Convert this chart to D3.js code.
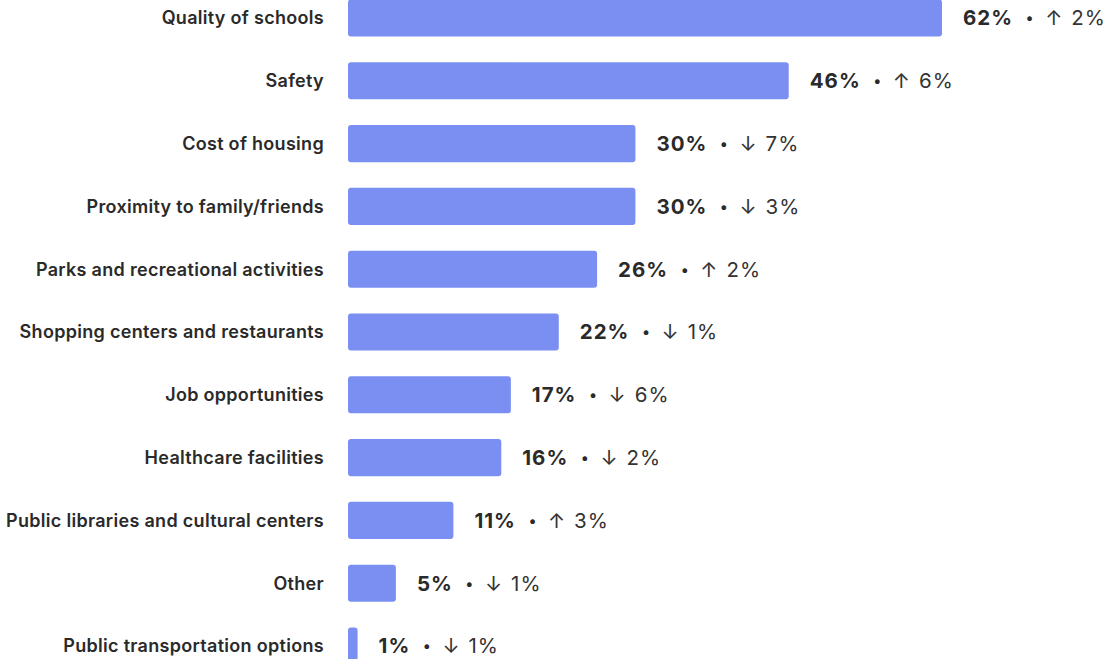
<!DOCTYPE html>
<html>
<head>
<meta charset="utf-8">
<script src="https://cdn.jsdelivr.net/npm/d3@7"></script>
<style>
  body { margin: 0; background: #fff; }
  svg { display: block; font-family: Inter, "Noto Sans", sans-serif; }
</style>
</head>
<body>
<div id="chart-root"></div>
<script>
// data
var categories = [
    "Quality of schools", "Safety", "Cost of housing", "Proximity to family/friends",
    "Parks and recreational activities", "Shopping centers and restaurants",
    "Job opportunities", "Healthcare facilities", "Public libraries and cultural centers",
    "Other", "Public transportation options"
];
var shares = [62, 46, 30, 30, 26, 22, 17, 16, 11, 5, 1];
var changes = [2, 6, -7, -3, 2, -1, -6, -2, 3, -1, -1];

var width = 1106, height = 659;

var svg = d3.select("#chart-root")
    .append("svg")
    .attr("width", width)
    .attr("height", height);

var step = 62.8;
var x = d3.scaleLinear().domain([0, 62]).range([348, 942]);
var y = d3.scaleBand()
    .domain(categories)
    .range([18 - step / 2, 18 - step / 2 + step * categories.length])
    .paddingInner(0.41)
    .paddingOuter(0.205);

var rows = svg.selectAll("g.row")
    .data(categories.map(function (c, i) { return { name: c, value: shares[i], change: changes[i] }; }))
    .enter().append("g")
    .attr("class", "row");

// bars
rows.append("rect")
    .attr("x", x(0))
    .attr("y", function (d) { return y(d.name); })
    .attr("width", function (d) { return x(d.value) - x(0); })
    .attr("height", y.bandwidth())
    .attr("rx", 3)
    .attr("fill", "#7b8ff2");

// category labels
rows.append("text")
    .attr("x", 324)
    .attr("y", function (d) { return y(d.name) + y.bandwidth() / 2; })
    .attr("dy", "0.35em")
    .attr("text-anchor", "end")
    .style("font-size", "18px")
    .style("letter-spacing", "0.3px")
    .style("font-weight", 600)
    .style("fill", "#2a2a2a")
    .text(function (d) { return d.name; });

// value + change labels
var vt = rows.append("text")
    .attr("x", function (d) { return x(d.value) + 21; })
    .attr("y", function (d) { return y(d.name) + y.bandwidth() / 2; })
    .attr("dy", "0.36em")
    .style("font-size", "20.5px")
    .style("letter-spacing", "1px")
    .style("fill", "#2a2a2a");

vt.append("tspan")
    .style("font-weight", 700)
    .text(function (d) { return d.value + "%"; });

// bullet nudged up to sit at mid-height of the digits
vt.append("tspan")
    .attr("dx", 13)
    .attr("dy", -2)
    .style("font-size", "15px")
    .style("font-weight", 700)
    .text("\u2022");

vt.append("tspan")
    .attr("dx", 11)
    .attr("dy", 2)
    .style("font-weight", 400)
    .style("fill", "#333")
    .text(function (d) { return d.change > 0 ? "\u2191" : "\u2193"; });

vt.append("tspan")
    .attr("dx", 8)
    .style("font-weight", 400)
    .style("fill", "#333")
    .text(function (d) { return Math.abs(d.change) + "%"; });
</script>
</body>
</html>
